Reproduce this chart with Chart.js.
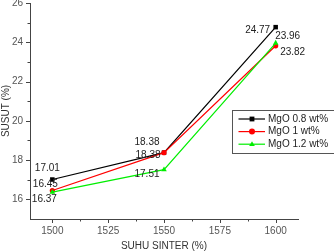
<!DOCTYPE html>
<html>
<head>
<meta charset="utf-8">
<script src="https://cdn.jsdelivr.net/npm/chart.js@4.4.1/dist/chart.umd.min.js"></script>
<style>
  html, body { margin: 0; padding: 0; background: #fff; overflow: hidden; }
  #chart { display: block; margin-top: -10px; }
</style>
</head>
<body>
<canvas id="chart" width="334" height="262"></canvas>
<script>
const temps = [1500, 1550, 1600];
const seriesNames = ["MgO 0.8 wt%", "MgO 1 wt%", "MgO 1.2 wt%"];
const mgo08 = [17.01, 18.38, 24.77];
const mgo1 = [16.45, 18.38, 23.82];
const mgo12 = [16.37, 17.51, 23.96];
const xMajor = [1500, 1525, 1550, 1575, 1600];
const xMinor = [1512.5, 1537.5, 1562.5, 1587.5];
const yMajor = [16, 18, 20, 22, 24, 26];
const yMinor = [17, 19, 21, 23, 25];

const FONT = "'Liberation Sans', Arial, sans-serif";
const TICK_FONT = "'Liberation Sans Narrow', 'Arial Narrow', 'Liberation Sans', sans-serif";
const colors = ["#000000", "#ff0000", "#00ee00"];
const markers = ["rect", "circle", "triangle"];

// label offsets from each point (px), per series
const labelOffsets = [
  [[-5, -11], [-17, -10], [-18, 3]],
  [[-7, -6], [-16, 3], [17, 6]],
  [[-8, 7], [-17, 5], [12, -7]]
];

function toPoints(values) {
  return temps.map((t, i) => ({ x: t, y: values[i] }));
}

function setTicks(major, minor) {
  return function (scale) {
    const all = major.map(v => ({ value: v, major: true }))
      .concat(minor.map(v => ({ value: v, major: false })));
    all.sort((a, b) => a.value - b.value);
    scale.ticks = all;
  };
}

function drawMarker(ctx, style, x, y, r, color) {
  ctx.fillStyle = color;
  ctx.beginPath();
  if (style === "rect") {
    const s = r * Math.SQRT1_2;
    ctx.rect(x - s, y - s, 2 * s, 2 * s);
  } else if (style === "circle") {
    ctx.arc(x, y, r, 0, Math.PI * 2);
  } else {
    ctx.moveTo(x, y - r);
    ctx.lineTo(x + r * 0.95, y + r * 0.6);
    ctx.lineTo(x - r * 0.95, y + r * 0.6);
    ctx.closePath();
  }
  ctx.fill();
}

const tickMarks = {
  id: "tickMarks",
  afterDraw(chart) {
    const ctx = chart.ctx;
    const xs = chart.scales.x, ys = chart.scales.y;
    ctx.save();
    ctx.strokeStyle = "#444";
    ctx.lineWidth = 1;
    ctx.beginPath();
    xs.ticks.forEach(t => {
      const px = Math.round(xs.getPixelForValue(t.value)) + 0.5;
      const len = t.major ? 4 : 2.5;
      ctx.moveTo(px, xs.top);
      ctx.lineTo(px, xs.top + len);
    });
    ys.ticks.forEach(t => {
      const py = Math.round(ys.getPixelForValue(t.value)) + 0.5;
      const len = t.major ? 4 : 2.5;
      ctx.moveTo(ys.right, py);
      ctx.lineTo(ys.right - len, py);
    });
    ctx.stroke();
    ctx.restore();
  }
};

const pointLabels = {
  id: "pointLabels",
  afterDatasetsDraw(chart) {
    const ctx = chart.ctx;
    ctx.save();
    ctx.font = "10px " + FONT;
    ctx.fillStyle = "#222";
    ctx.textAlign = "center";
    ctx.textBaseline = "middle";
    chart.data.datasets.forEach((ds, i) => {
      chart.getDatasetMeta(i).data.forEach((pt, j) => {
        const off = labelOffsets[i][j];
        ctx.fillText(ds.data[j].y.toFixed(2), pt.x + off[0], pt.y + off[1]);
      });
    });
    ctx.restore();
  }
};

const boxLegend = {
  id: "boxLegend",
  afterDraw(chart) {
    const ctx = chart.ctx;
    const top = 120, left = 232.5, w = 110, h = 43;
    ctx.save();
    ctx.strokeStyle = "#555";
    ctx.lineWidth = 1;
    ctx.strokeRect(left, top + 0.5, w, h);
    ctx.font = "10px " + FONT;
    ctx.textBaseline = "middle";
    seriesNames.forEach((name, i) => {
      const y = top + 9 + i * 12.6;
      ctx.strokeStyle = colors[i];
      ctx.lineWidth = 1.2;
      ctx.beginPath();
      ctx.moveTo(238.5, y);
      ctx.lineTo(265, y);
      ctx.stroke();
      drawMarker(ctx, markers[i], 252, y, i === 0 ? 3.4 : 3, colors[i]);
      ctx.fillStyle = "#222";
      ctx.fillText(name, 268, y);
    });
    ctx.restore();
  }
};

const datasets = [mgo08, mgo1, mgo12].map((vals, i) => ({
  label: seriesNames[i],
  data: toPoints(vals),
  borderColor: colors[i],
  backgroundColor: colors[i],
  borderWidth: 1.2,
  pointStyle: markers[i],
  pointRadius: i === 0 ? 3.2 : (i === 1 ? 2.6 : 3.2),
  pointBorderWidth: 0,
  tension: 0,
  order: 3 - i
}));

new Chart(document.getElementById("chart"), {
  type: "line",
  data: { datasets },
  options: {
    responsive: false,
    animation: false,
    devicePixelRatio: 1,
    layout: { padding: { top: 11, right: 36, left: 0, bottom: 0 } },
    plugins: {
      legend: { display: false },
      tooltip: { enabled: false }
    },
    scales: {
      x: {
        type: "linear",
        min: 1490,
        max: 1610,
        afterBuildTicks: setTicks(xMajor, xMinor),
        afterFit(scale) { scale.height = 33; },
        grid: { drawOnChartArea: false, drawTicks: false },
        border: { color: "#444", width: 1 },
        ticks: {
          autoSkip: false,
          maxRotation: 0,
          padding: 6,
          color: "#555",
          font: { family: TICK_FONT, size: 10 },
          callback: (v, i, ticks) => ticks[i].major ? String(v) : ""
        },
        title: {
          display: true,
          text: "SUHU SINTER (%)",
          color: "#333",
          font: { family: FONT, size: 10 },
          padding: { top: 0, bottom: 0 }
        }
      },
      y: {
        type: "linear",
        min: 15,
        max: 26,
        afterBuildTicks: setTicks(yMajor, yMinor),
        afterFit(scale) { scale.width = 30; },
        grid: { drawOnChartArea: false, drawTicks: false },
        border: { color: "#444", width: 1 },
        ticks: {
          autoSkip: false,
          padding: 7,
          color: "#555",
          font: { family: TICK_FONT, size: 10 },
          callback: (v, i, ticks) => ticks[i].major ? String(v) : ""
        },
        title: {
          display: true,
          text: "SUSUT (%)",
          color: "#333",
          font: { family: FONT, size: 10 },
          padding: { top: 0, bottom: 0 }
        }
      }
    }
  },
  plugins: [tickMarks, pointLabels, boxLegend]
});
</script>
</body>
</html>
